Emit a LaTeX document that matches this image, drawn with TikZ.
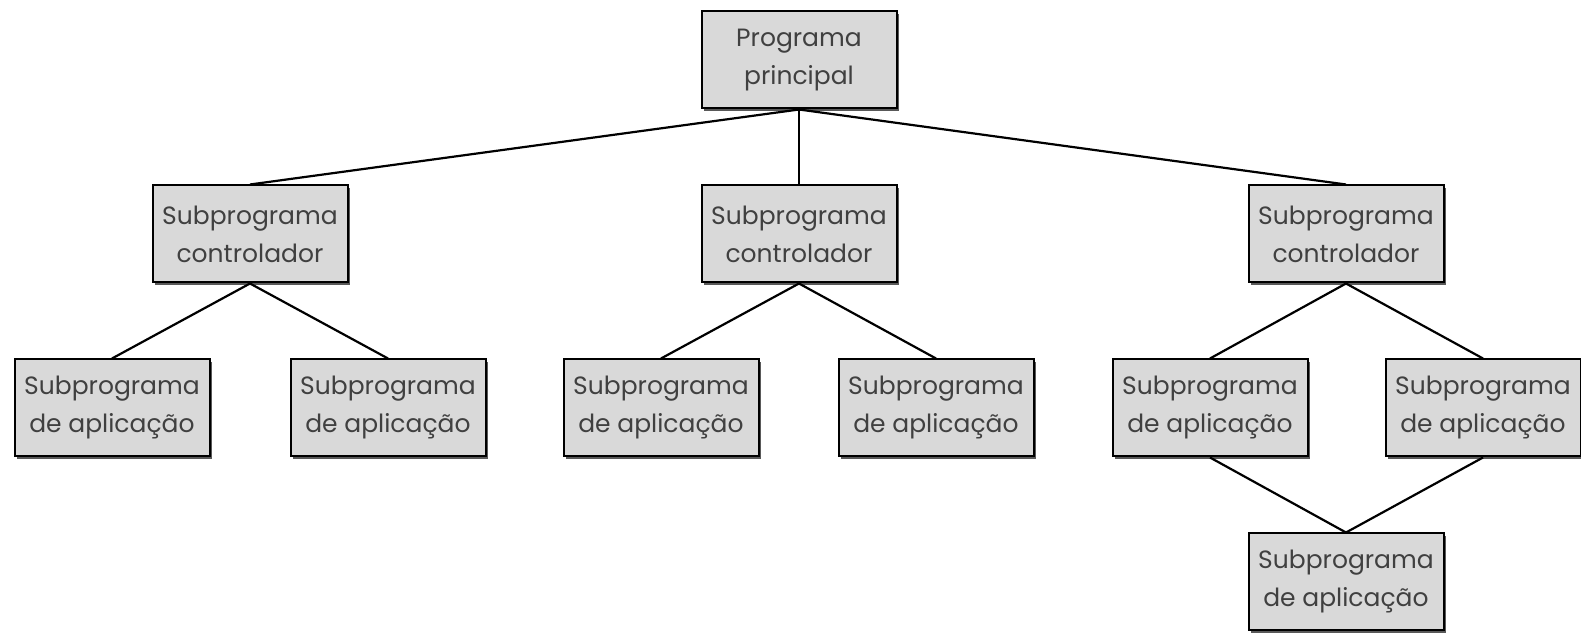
\documentclass[tikz,border=0pt]{standalone}
\usepackage{fontspec}
\setmainfont{Poppins}
\usetikzlibrary{positioning, shadows}

\tikzset{
    prog/.style={draw=black, line width=1pt, fill=black!15, text=black!75,
        minimum width=97.5pt, minimum height=48.5pt, align=center,
        font=\fontsize{12.5}{19}\selectfont,
        drop shadow={shadow xshift=1.3pt, shadow yshift=-1.3pt, fill=black!65, opacity=1}},
    link/.style={line width=1.1pt}
}

\begin{document}
\begin{tikzpicture}[node distance=37.5pt]
        \useasboundingbox (0,0) rectangle (790.5pt,-317.5pt);

        % Draw the boxes
        \node[prog] (main) at (399.5pt,-30pt) {Programa\\principal};

        \node[prog, below=of main]       (c2) {Subprograma\\controlador};
        \node[prog, left=176pt of c2]    (c1) {Subprograma\\controlador};
        \node[prog, right=175pt of c2]   (c3) {Subprograma\\controlador};

        \node[prog, below=of c1, xshift=-69pt] (a11) {Subprograma\\de aplicação};
        \node[prog, below=of c1, xshift=69pt]  (a12) {Subprograma\\de aplicação};
        \node[prog, below=of c2, xshift=-69pt] (a21) {Subprograma\\de aplicação};
        \node[prog, below=of c2, xshift=68.5pt] (a22) {Subprograma\\de aplicação};
        \node[prog, below=of c3, xshift=-68pt] (a31) {Subprograma\\de aplicação};
        \node[prog, below=of c3, xshift=68.5pt] (a32) {Subprograma\\de aplicação};

        \node[prog, below=of a31, xshift=68pt] (a4) {Subprograma\\de aplicação};

        % Connect the boxes
        \draw[link]
            (main.south) edge (c1.north)
            (main.south) edge (c2.north)
            (main.south) edge (c3.north)

            (c1.south) edge (a11.north)
            (c1.south) edge (a12.north)
            (c2.south) edge (a21.north)
            (c2.south) edge (a22.north)
            (c3.south) edge (a31.north)
            (c3.south) edge (a32.north)

            (a31.south) edge (a4.north)
            (a32.south) edge (a4.north);
\end{tikzpicture}
\end{document}
